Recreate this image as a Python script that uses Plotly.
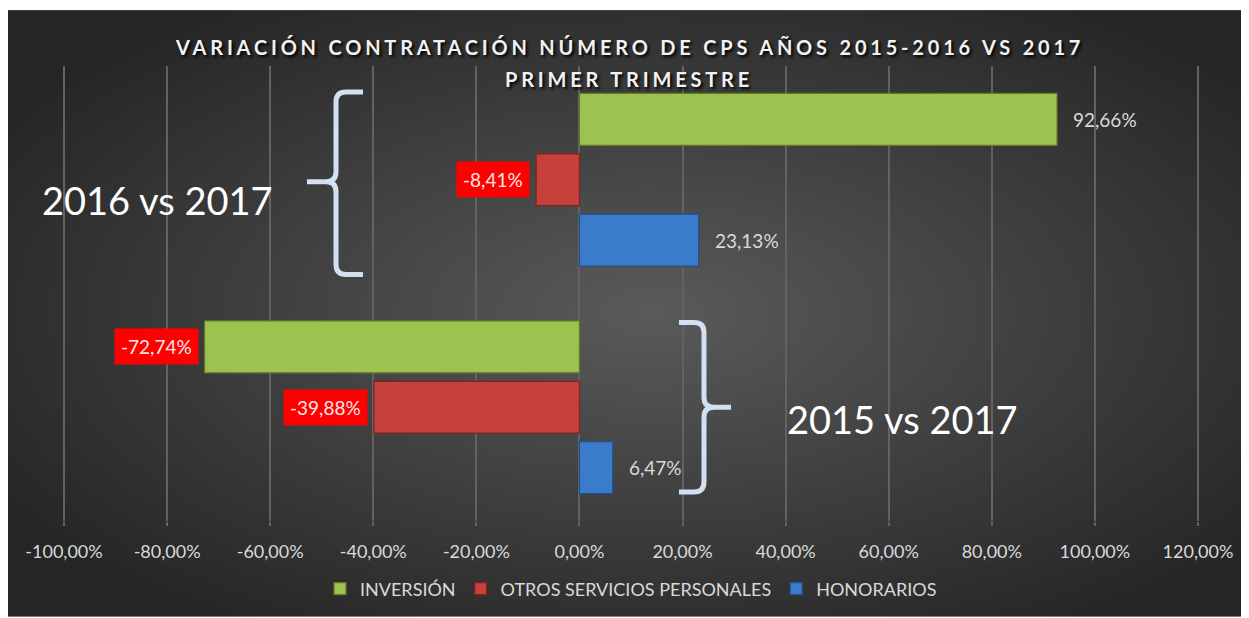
import base64
import plotly.graph_objects as go

# ---------------- data ----------------
groups = ["2015 vs 2017", "2016 vs 2017"]
inversion = [-72.74, 92.66]
otros = [-39.88, -8.41]
honorarios = [6.47, 23.13]
label_text_inv = ["-72,74%", "92,66%"]
label_text_otros = ["-39,88%", "-8,41%"]
label_text_hon = ["6,47%", "23,13%"]
tick_vals = [-100, -80, -60, -40, -20, 0, 20, 40, 60, 80, 100, 120]
tick_text = ["-100,00%", "-80,00%", "-60,00%", "-40,00%", "-20,00%", "0,00%",
             "20,00%", "40,00%", "60,00%", "80,00%", "100,00%", "120,00%"]

# ---------------- layout constants ----------------
OFF = 8                      # page body margin in the browser
W, H = 1249 - OFF, 618 - OFF
ML = 63 - OFF
MR = W - (1199 - OFF)
MT = 66 - OFF
MB = H - (522 - OFF)
PW, PH = W - ML - MR, H - MT - MB
BARGAP, BARGROUPGAP = 0.204, 0.14
FONT = "Lato"
GREEN, RED, BLUE = "#9dc24f", "#c6403c", "#3b7bcb"


def px(x, y):
    """reference-screen pixel -> paper coords"""
    x, y = x - OFF, y - OFF
    return (x - ML) / PW, (H - MB - y) / PH


fig = go.Figure()
series = [
    ("HONORARIOS", honorarios, BLUE, "#24508a", 3, label_text_hon),
    ("OTROS SERVICIOS PERSONALES", otros, RED, "#7d2220", 2, label_text_otros),
    ("INVERSIÓN", inversion, GREEN, "#5f7a2a", 1, label_text_inv),
]
for name, vals, col, line, rank, _ in series:
    fig.add_trace(go.Bar(
        y=groups, x=vals, name=name, orientation="h",
        marker=dict(color=col, line=dict(color=line, width=1.2)),
        legendrank=rank, hoverinfo="skip",
    ))

# data labels
cat_px = PH / len(groups)
slot = cat_px * (1 - BARGAP) / 3
annotations = []
for i, (name, vals, col, line, rank, texts) in enumerate(series):
    yshift = (i - 1) * slot
    for g, v, t in zip(groups, vals, texts):
        if v >= 0:
            annotations.append(dict(
                x=v, y=g, xref="x", yref="y", text=t, showarrow=False,
                xanchor="left", yanchor="middle", xshift=14, yshift=yshift,
                font=dict(family=FONT, size=19, color="#d9d9d9")))
        else:
            annotations.append(dict(
                x=v, y=g, xref="x", yref="y", text=t, showarrow=False,
                xanchor="right", yanchor="middle", xshift=-6, yshift=yshift,
                bgcolor="#ff0000", borderpad=6,
                font=dict(family=FONT, size=19, color="#f4e8e8")))

# big group captions
for txt, (cx, cy) in [("2016 vs 2017", (157, 200)), ("2015 vs 2017", (902, 420))]:
    x, y = px(cx, cy)
    annotations.append(dict(x=x, y=y, xref="paper", yref="paper", text=txt,
                            showarrow=False, xanchor="center", yanchor="middle",
                            font=dict(family=FONT, size=38, color="#ffffff")))

# title
tx, ty1 = px(629, 47)
_, ty2 = px(629, 79)
title_style = "letter-spacing:3.8px"
for txt, ty in [("VARIACIÓN CONTRATACIÓN NÚMERO DE CPS AÑOS 2015-2016 VS 2017", ty1),
                ("PRIMER TRIMESTRE", ty2)]:
    annotations.append(dict(
        x=tx, y=ty, xref="paper", yref="paper",
        text=f"<span style='{title_style}'>{txt}</span>", showarrow=False,
        xanchor="center", yanchor="middle",
        font=dict(family=FONT, size=20, color="#f2f2f2", weight="bold",
                  shadow="2px 2px 3px #000000")))


# braces as paths (paper coords)
def path(points):
    out = []
    for cmd, pts in points:
        coords = " ".join("%.5f,%.5f" % px(a, b) for a, b in pts)
        out.append(f"{cmd} {coords}")
    return " ".join(out)


top_brace = path([
    ("M", [(363, 92)]), ("L", [(346, 92)]), ("Q", [(336, 92), (336, 102)]),
    ("L", [(336, 172)]), ("Q", [(336, 182), (326, 182)]), ("L", [(307, 182)]),
    ("M", [(326, 182)]), ("Q", [(336, 182), (336, 192)]),
    ("L", [(336, 265)]), ("Q", [(336, 275), (346, 275)]), ("L", [(363, 275)]),
])
bot_brace = path([
    ("M", [(679, 323)]), ("L", [(694, 323)]), ("Q", [(704, 323), (704, 333)]),
    ("L", [(704, 398)]), ("Q", [(704, 408), (714, 408)]), ("L", [(731, 408)]),
    ("M", [(714, 408)]), ("Q", [(704, 408), (704, 418)]),
    ("L", [(704, 483)]), ("Q", [(704, 493), (694, 493)]), ("L", [(679, 493)]),
])
shapes = [dict(type="path", path=p, xref="paper", yref="paper",
               line=dict(color="#d3e0ef", width=5))
          for p in (top_brace, bot_brace)]

# background (radial gradient like the original chart area)
bw, bh = 1249 - 6, 618 - 10
svg = (f'<svg xmlns="http://www.w3.org/2000/svg" width="{bw}" height="{bh}">'
       '<defs><radialGradient id="g" cx="0.52" cy="0.5" r="0.62">'
       '<stop offset="0" stop-color="#5a5a5a"/><stop offset="1" stop-color="#252525"/>'
       '</radialGradient></defs>'
       f'<rect width="{bw}" height="{bh}" fill="url(#g)"/></svg>')
src = "data:image/svg+xml;base64," + base64.b64encode(svg.encode()).decode()
bx0, by0 = px(6, 10)
bx1, by1 = px(1249, 618)

fig.update_layout(
    width=W, height=H,
    margin=dict(l=ML, r=MR, t=MT, b=MB),
    paper_bgcolor="#ffffff", plot_bgcolor="rgba(0,0,0,0)",
    barmode="group", bargap=BARGAP, bargroupgap=BARGROUPGAP,
    images=[dict(source=src, xref="paper", yref="paper", x=bx0, y=by0,
                 sizex=bx1 - bx0, sizey=by0 - by1, sizing="stretch",
                 xanchor="left", yanchor="top", layer="below")],
    xaxis=dict(range=[-100.2, 120.2], tickvals=tick_vals, ticktext=tick_text,
               showgrid=True, gridcolor="#626262", gridwidth=1.5,
               zeroline=False, showline=False, ticks="outside", ticklen=4,
               tickcolor="#626262", tickwidth=1.5, ticklabelstandoff=10,
               tickfont=dict(family=FONT, size=18, color="#d9d9d9"),
               fixedrange=True),
    yaxis=dict(categoryorder="array", categoryarray=groups, showticklabels=False,
               showgrid=False, zeroline=False, showline=False, fixedrange=True),
    showlegend=True,
    legend=dict(orientation="h", x=0.5, xanchor="center", y=px(0, 589)[1],
                yanchor="middle", font=dict(family=FONT, size=18, color="#d9d9d9"),
                bgcolor="rgba(0,0,0,0)", itemwidth=30),
    annotations=annotations, shapes=shapes,
)

fig.write_html("out.html")
